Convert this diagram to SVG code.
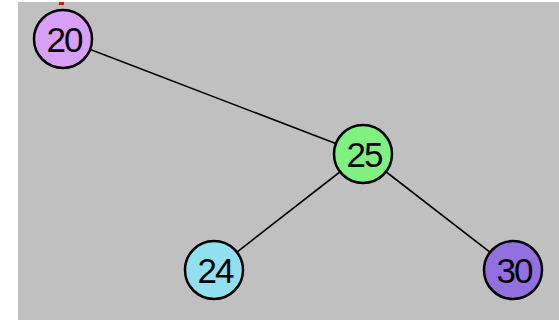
<svg xmlns="http://www.w3.org/2000/svg" width="559" height="320" viewBox="0 0 559 320">
<style>
.edge{stroke:#000;stroke-width:1.6;fill:none}
.node{stroke:#000;stroke-width:2.5}
.lbl{font-family:"Liberation Sans",Arial,sans-serif;font-size:35px;fill:#000;text-anchor:middle;letter-spacing:-2px}
</style>
<rect x="0" y="0" width="559" height="320" fill="#ffffff"/>
<rect x="18" y="2" width="541" height="318" fill="#c0c0c0"/>
<rect x="59" y="2" width="5" height="3" fill="#ff0000"/>
<g id="connectors">
<line class="edge" x1="63" y1="39" x2="363" y2="154"/>
<line class="edge" x1="363" y1="154" x2="214" y2="270"/>
<line class="edge" x1="363" y1="154" x2="513" y2="270"/>
</g>
<g id="n20"><circle class="node" cx="63" cy="39" r="29" fill="#d8a0f4"/><text class="lbl" x="64" y="52">20</text></g>
<g id="n25"><circle class="node" cx="363" cy="154" r="29" fill="#80f080"/><text class="lbl" x="364" y="167">25</text></g>
<g id="n24"><circle class="node" cx="214" cy="270" r="29" fill="#90e0f0"/><text class="lbl" x="215" y="283">24</text></g>
<g id="n30"><circle class="node" cx="513" cy="270" r="29" fill="#9370e0"/><text class="lbl" x="514" y="283">30</text></g>
</svg>
